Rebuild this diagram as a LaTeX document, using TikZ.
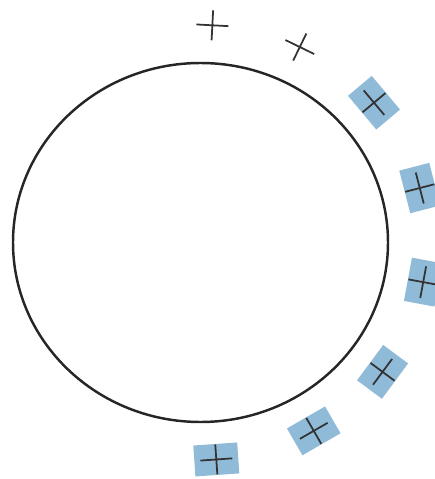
\documentclass[tikz,border=0pt]{standalone}
\definecolor{siteblue}{RGB}{143,187,217}
\tikzset{
  site/.style={rectangle,minimum width=0.88cm,minimum height=0.62cm,inner sep=0pt},
  cross/.style={line width=1pt,black!80},
}
\begin{document}
\begin{tikzpicture}
\clip (-4.01,-4.73) rectangle (4.69,4.85);
\coordinate (O) at (0,0);
\draw[line width=1.4pt,black!85] (O) ellipse [x radius=3.75, y radius=3.59];
% points round the ring, the first two not shaded
\foreach \a/\f [count=\i] in {87/none,64/none,40/siteblue,14.5/siteblue,-10.5/siteblue,-36.5/siteblue,-60/siteblue,-86/siteblue}{
  \node[site,fill=\f,rotate=\a-90] (s\i) at (\a:4.53 and 4.35) {};
  \begin{scope}[shift={(s\i)},rotate=\a-90]
    \draw[cross] (-0.32,0) -- (0.32,0) (0,-0.3) -- (0,0.3);
  \end{scope}
}
\end{tikzpicture}
\end{document}
